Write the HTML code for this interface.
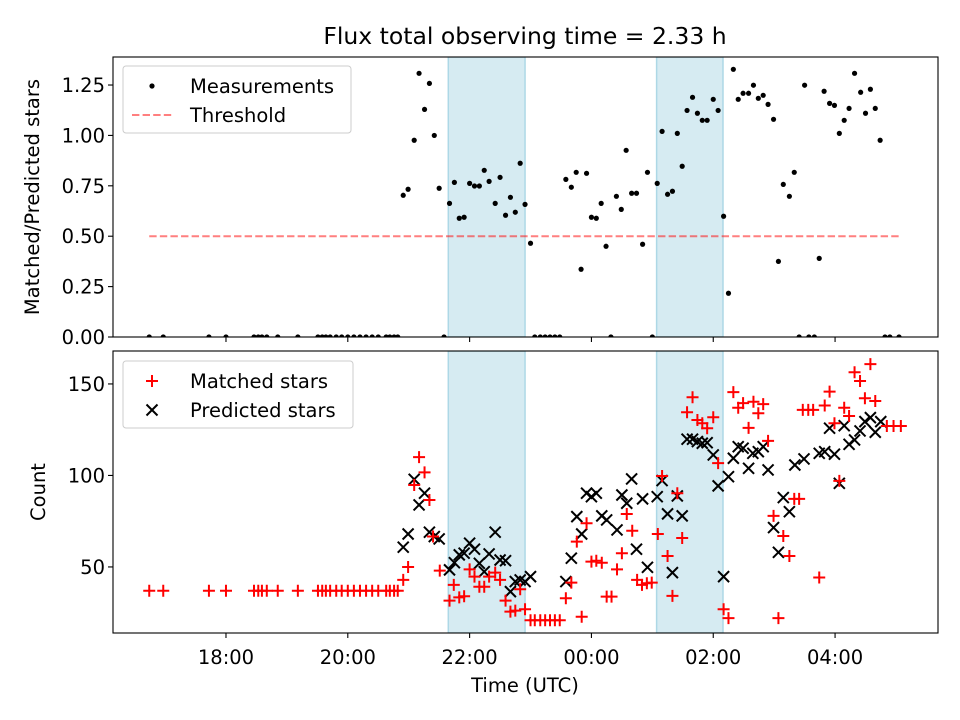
<!DOCTYPE html>
<html><head><meta charset="utf-8"><style>
body{margin:0;background:#fff;}
svg{display:block;font-family:"DejaVu Sans","Liberation Sans",sans-serif;}
</style></head><body>
<svg id="chart" width="960" height="720" viewBox="0 0 960 720"></svg>
<script>
const ratioTimes=[16.74,16.97,17.72,18.0,18.46,18.53,18.59,18.67,18.85,19.18,19.51,19.58,19.64,19.71,19.81,19.90,20.0,20.10,20.20,20.30,20.40,20.50,20.63,20.69,20.76,20.82,
20.91,20.99,21.09,21.17,21.26,21.34,21.42,21.50,21.58,21.67,21.75,21.83,21.91,22.00,22.08,22.16,22.24,22.32,22.42,22.50,22.59,22.67,22.75,22.83,22.91,23.00,
23.07,23.16,23.24,23.32,23.40,23.48,23.58,23.67,23.75,23.83,23.92,24.00,24.08,24.16,24.24,24.32,24.41,24.49,24.57,24.66,24.74,24.84,24.92,25.0,25.08,25.16,25.25,25.33,25.41,25.49,25.57,25.66,25.74,25.82,25.90,26.00,26.08,26.17,26.25,26.33,26.41,26.49,26.58,26.66,26.74,26.82,26.90,26.99,27.07,27.15,27.25,27.33,27.41,27.50,27.57,27.66,27.74,27.82,27.91,27.99,28.07,28.15,28.23,28.32,28.42,28.50,28.58,28.66,28.74,28.82,28.90,29.05];
const ratioValues=[0,0,0,0,0,0,0,0,0,0,0,0,0,0,0,0,0,0,0,0,0,0,0,0,0,0,
0.703,0.733,0.976,1.308,1.129,1.258,1.000,0.738,0,0.663,0.767,0.589,0.594,0.762,0.749,0.749,0.827,0.772,0.663,0.792,0.604,0.693,0.619,0.862,0.658,0.465,
0,0,0,0,0,0,0.782,0.743,0.817,0.336,0.812,0.594,0.589,0.663,0.450,0,0.698,0.633,0.926,0.713,0.713,0.460,0.817,0,0.762,1.020,0.708,0.723,1.010,0.847,1.124,1.189,1.110,1.075,1.075,1.179,1.124,0.599,0.217,1.328,1.179,1.209,1.209,1.249,1.184,1.199,1.154,1.080,0.375,0.757,0.698,0.817,0,1.249,0,0,0.390,1.219,1.159,1.149,1.010,1.075,1.134,1.308,1.214,1.110,1.229,1.134,0.976,0,0,0];
const matchedTimes=[16.74,16.97,17.72,18.0,18.46,18.53,18.59,18.67,18.85,19.18,19.51,19.58,19.64,19.71,19.81,19.90,20.0,20.10,20.20,20.30,20.40,20.50,20.63,20.69,20.76,20.82,
20.91,20.99,21.09,21.17,21.26,21.34,21.40,21.51,21.67,21.74,21.83,21.91,22.00,22.08,22.16,22.24,22.32,22.42,22.50,22.59,22.67,22.75,22.83,22.91,23.00,23.07,23.16,23.24,23.32,23.40,23.48,
23.58,23.67,23.76,23.84,23.92,24.00,24.08,24.17,24.25,24.33,24.42,24.50,24.58,24.67,24.75,24.83,24.91,24.99,25.09,25.16,25.25,25.33,25.41,25.49,25.57,25.66,25.74,25.82,25.90,26.00,26.08,26.17,26.25,26.33,26.41,26.49,26.58,26.66,26.74,26.82,26.90,26.99,27.07,27.15,27.25,27.33,27.41,27.47,27.56,27.64,27.74,27.83,27.91,27.99,28.07,28.15,28.23,28.32,28.41,28.49,28.58,28.66,28.85,28.96,29.08];
const matchedCounts=[37,37,37,37,37,37,37,37,37,37,37,37,37,37,37,37,37,37,37,37,37,37,37,37,37,37,
42.9,50,94.8,110,101.7,86.6,66.6,48,31.6,40.2,33.4,34,48.7,44.7,39.2,39.2,44.7,46.9,42.9,31.6,25.6,26.1,37.8,26.9,20.9,20.9,20.9,20.9,20.9,20.9,20.9,
32.9,41.4,63.8,22.8,73.9,52.9,53.4,52.3,33.8,33.8,48.7,57.5,78.9,69.8,42.9,40.2,41.1,41.4,68,99.7,56,34.2,90.3,65.8,134.5,142.7,130.3,128.5,125.8,131.8,106.7,26.9,22,145.5,137,139.5,126,140.3,134,139,118.9,77.9,22,66.9,56,87.2,87.2,135.8,135.8,135.8,44.2,138.2,145.8,128.5,97,137,132.5,156.4,151.6,142.2,160.8,140.7,127,127,127];
const predictedTimes=[20.91,20.99,21.09,21.17,21.26,21.34,21.42,21.50,21.67,21.75,21.83,21.91,22.00,22.08,22.16,22.24,22.32,22.42,22.50,22.59,22.67,22.75,22.83,22.91,23.00,
23.58,23.67,23.76,23.84,23.92,24.00,24.08,24.17,24.25,24.42,24.50,24.58,24.66,24.74,24.84,24.92,25.08,25.16,25.25,25.33,25.41,25.49,25.57,25.66,25.74,25.82,25.90,26.00,26.08,26.17,26.25,26.33,26.41,26.49,26.58,26.65,26.74,26.82,26.90,26.99,27.07,27.15,27.25,27.34,27.49,27.74,27.83,27.91,27.99,28.07,28.15,28.23,28.32,28.41,28.49,28.58,28.66,28.75];
const predictedCounts=[60.8,68,97.9,83.9,90.3,69,66.6,65.3,48.4,52.3,56.6,57.5,63,59.7,52,47.4,57.1,69,53.8,53.4,36.5,42,42.9,42,44.7,
42,54.8,77.5,68,90.3,88.4,90.3,77.9,75.7,70.2,89.3,84.8,98.1,59.7,87.2,49.8,88.4,97.2,79,46.9,88.8,77.9,119.8,119.8,118.5,117.6,117.9,111.2,94.3,44.7,99.3,109.4,115.7,114.9,103.9,112.1,113,115.7,103,71.5,58,87.9,80.2,105.7,109,112.1,113,125.8,111.6,95.7,127.2,117,119.4,124.3,129.4,131.6,123.6,129.4];
const shadeStarts=[21.65,25.07];
const shadeEnds=[22.91,26.16];
const thresholdValue=0.5;
const thresholdRange=[16.74,29.07];
const xTickHours=[18,20,22,24,26,28];
const xTickLabels=["18:00","20:00","22:00","00:00","02:00","04:00"];
const topTicks=[0,0.25,0.5,0.75,1.0,1.25];
const topTickLabels=["0.00","0.25","0.50","0.75","1.00","1.25"];
const botTicks=[50,100,150];
const botTickLabels=["50","100","150"];

const NS="http://www.w3.org/2000/svg";
const svg=document.getElementById('chart');
function mk(tag,attrs,parent){const e=document.createElementNS(NS,tag);for(const k in attrs)e.setAttribute(k,attrs[k]);(parent||svg).appendChild(e);return e;}
const L=113,R=938,T1=57,B1=337,T2=351,B2=633;
const xMin=16.145,xMax=29.69;
const FS=19.5;
const X=t=>L+(t-xMin)/(xMax-xMin)*(R-L);
const Y1=v=>B1-(v-0)/(1.389)*(B1-T1);
const Y2=v=>B2-(v-13.9)/(168.0-13.9)*(B2-T2);

const title=mk('text',{x:525,y:44,'text-anchor':'middle','font-size':'23.5'});
title.textContent='Flux total observing time = 2.33 h';



function panel(top,bot,Yf,ticks,labels,name){
  const g=mk('g',{});
  
  
  const clipId=name+'-clip';
  const cp=mk('clipPath',{id:clipId},g);mk('rect',{x:L,y:top,width:R-L,height:bot-top},cp);
  const inner=mk('g',{'clip-path':'url(#'+clipId+')'},g);
  for(let i=0;i<shadeStarts.length;i++){
    const r=mk('rect',{x:X(shadeStarts[i]),y:top,width:X(shadeEnds[i])-X(shadeStarts[i]),height:bot-top,fill:'#add8e6','fill-opacity':0.5,stroke:'#add8e6','stroke-width':1.5},inner);
    
    
  }
  ticks.forEach((v,i)=>{
    const y=Yf(v);
    mk('line',{x1:L-5,x2:L,y1:y,y2:y,stroke:'#000','stroke-width':1.1},g);
    const t=mk('text',{x:L-8,y:y+7,'text-anchor':'end','font-size':FS},g);
    t.textContent=labels[i];
    
    
  });
  xTickHours.forEach(h=>{mk('line',{x1:X(h),x2:X(h),y1:bot,y2:bot+5,stroke:'#000','stroke-width':1.1},g);});
  return {g,inner};
}
const p1=panel(T1,B1,Y1,topTicks,topTickLabels,'ratio-panel');
const p2=panel(T2,B2,Y2,botTicks,botTickLabels,'count-panel');

const th=mk('line',{x1:X(thresholdRange[0]),x2:X(thresholdRange[1]),y1:Y1(thresholdValue),y2:Y1(thresholdValue),stroke:'#ff0000','stroke-opacity':0.5,'stroke-width':2,'stroke-dasharray':'7.4,3.2'},p1.inner);


ratioTimes.forEach((t,i)=>{
  const c=mk('circle',{cx:X(t),cy:Y1(ratioValues[i]),r:2.6,fill:'#000'},p1.inner);
  
  
});
predictedTimes.forEach((t,i)=>{
  const x=X(t),y=Y2(predictedCounts[i]),s=5.5;
  const p=mk('path',{d:`M${x-s},${y-s}L${x+s},${y+s}M${x-s},${y+s}L${x+s},${y-s}`,stroke:'#000','stroke-width':2,fill:'none'},p2.inner);
  
  
});
matchedTimes.forEach((t,i)=>{
  const x=X(t),y=Y2(matchedCounts[i]),s=6;
  const p=mk('path',{d:`M${x-s},${y}L${x+s},${y}M${x},${y-s}L${x},${y+s}`,stroke:'#ff0000','stroke-width':2,fill:'none'},p2.inner);
  
  
});
[[T1,B1],[T2,B2]].forEach(([a,b],i)=>{
  const r=mk('rect',{x:L,y:a,width:R-L,height:b-a,fill:'none',stroke:'#000','stroke-width':1.1});
  
  
});
xTickHours.forEach((h,i)=>{
  const t=mk('text',{x:X(h),y:B2+31,'text-anchor':'middle','font-size':FS});
  t.textContent=xTickLabels[i];
  
  
});
const xl=mk('text',{x:525,y:692,'text-anchor':'middle','font-size':FS});
xl.textContent='Time (UTC)';


const yl1=mk('text',{x:0,y:0,'text-anchor':'middle','font-size':FS,transform:'translate(39,197) rotate(-90)'});
yl1.textContent='Matched/Predicted stars';


const yl2=mk('text',{x:0,y:0,'text-anchor':'middle','font-size':FS,transform:'translate(45,492) rotate(-90)'});
yl2.textContent='Count';



function legend(x,y,w,items,name){
  const g=mk('g',{});
  
  
  mk('rect',{x:x,y:y,width:w,height:67,rx:3,fill:'#fff','fill-opacity':0.8,stroke:'#ccc','stroke-width':1},g);
  items.forEach((it,i)=>{
    const cy=y+20+i*29,cx=x+29;
    if(it.type==='dot')mk('circle',{cx:cx,cy:cy,r:2.6,fill:'#000'},g);
    if(it.type==='dash')mk('line',{x1:x+9,x2:x+50,y1:cy,y2:cy,stroke:'#ff0000','stroke-opacity':0.5,'stroke-width':2,'stroke-dasharray':'7.4,3.2'},g);
    if(it.type==='plus')mk('path',{d:`M${cx-6},${cy}L${cx+6},${cy}M${cx},${cy-6}L${cx},${cy+6}`,stroke:'#ff0000','stroke-width':2},g);
    if(it.type==='x')mk('path',{d:`M${cx-5.5},${cy-5.5}L${cx+5.5},${cy+5.5}M${cx-5.5},${cy+5.5}L${cx+5.5},${cy-5.5}`,stroke:'#000','stroke-width':2},g);
    const t=mk('text',{x:x+67,y:cy+7,'font-size':FS},g);
    t.textContent=it.label;
    
    
  });
}
legend(123,66,228,[{type:'dot',label:'Measurements'},{type:'dash',label:'Threshold'}],'ratio-legend');
legend(123,361,230,[{type:'plus',label:'Matched stars'},{type:'x',label:'Predicted stars'}],'count-legend');
</script>
</body></html>
